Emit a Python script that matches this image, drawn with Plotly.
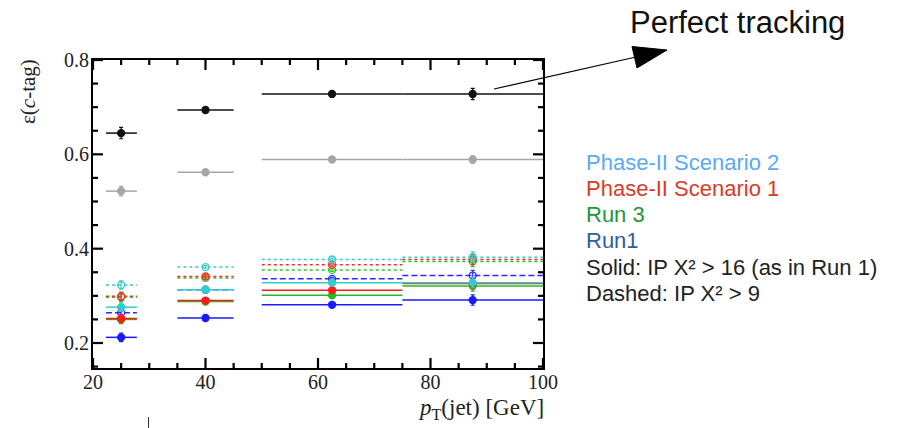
import plotly.graph_objects as go

# ---------------- data ----------------
bin_lo = [22.3, 35.0, 50.0, 75.0]
bin_hi = [27.8, 45.0, 75.0, 100.0]
bin_center = [25.0, 40.0, 62.5, 87.5]

perfect_solid = [0.645, 0.694, 0.728, 0.728]
perfect_solid_err = [0.012, 0.004, 0.004, 0.012]
perfect_gray = [0.522, 0.562, 0.589, 0.589]
perfect_gray_err = [0.010, 0.003, 0.003, 0.008]

scen2_solid = [0.276, 0.313, 0.328, 0.328]
scen2_dashed = [0.323, 0.361, 0.377, 0.382]
scen1_solid = [0.252, 0.290, 0.312, 0.326]
scen1_dashed = [0.299, 0.341, 0.366, 0.377]
run3_solid = [0.250, 0.288, 0.301, 0.321]
run3_dashed = [0.297, 0.338, 0.355, 0.373]
run1_solid = [0.212, 0.253, 0.281, 0.291]
run1_dashed = [0.264, 0.313, 0.336, 0.343]
col_err = [0.009, 0.003, 0.003, 0.011]

x_range = [20, 100]
y_range = [0.147, 0.8]
x_major = [20, 40, 60, 80, 100]
x_minor = [25, 30, 35, 45, 50, 55, 65, 70, 75, 85, 90, 95]
y_major = [0.2, 0.4, 0.6, 0.8]
y_minor = [0.15, 0.25, 0.3, 0.35, 0.45, 0.5, 0.55, 0.65, 0.7, 0.75]

legend_lines = ["Phase-II Scenario 2", "Phase-II Scenario 1", "Run 3", "Run1",
                "Solid: IP X² > 16 (as in Run 1)", "Dashed: IP X² > 9"]
legend_colors = ["#5aaaf2", "#dc3a26", "#23963a", "#2f5f9c", "#222222", "#222222"]

# ---------------- geometry (pixels) ----------------
W, H = 899, 428
L, R, T, B = 93, 543, 60, 368


def px(xp):
    return (xp - L) / (R - L)


def py(yp):
    return (B - yp) / (B - T)


fig = go.Figure()


def add_series(vals, errs, color, dash, open_marker, width=1.5, size=7):
    xs, ys = [], []
    for lo, hi, v in zip(bin_lo, bin_hi, vals):
        xs += [lo, hi, None]
        ys += [v, v, None]
    fig.add_trace(go.Scatter(x=xs, y=ys, mode="lines",
                             line=dict(color=color, width=width, dash=dash),
                             hoverinfo="skip"))
    fig.add_trace(go.Scatter(
        x=bin_center, y=vals, mode="markers",
        marker=dict(symbol="circle-open" if open_marker else "circle",
                    size=size, color=color,
                    line=dict(color=color, width=1.3)),
        error_y=dict(type="data", array=errs, color=color, thickness=1.2, width=2)))


add_series(perfect_gray, perfect_gray_err, "#a6a6a6", "solid", False)
add_series(perfect_solid, perfect_solid_err, "#111111", "solid", False)

add_series(run1_dashed, col_err, "#2a2aff", "6px,3px", True)
add_series(run3_dashed, col_err, "#22cc22", "3px,3px", True)
add_series(scen1_dashed, col_err, "#ff2a2a", "3px,3px", True)
add_series(scen2_dashed, col_err, "#33cccc", "3px,3px", True)

add_series(run1_solid, col_err, "#1a1aff", "solid", False)
add_series(run3_solid, col_err, "#22bb22", "solid", False)
add_series(scen1_solid, col_err, "#ff1a1a", "solid", False)
add_series(scen2_solid, col_err, "#33cccc", "solid", False)

axis_common = dict(showline=True, linecolor="black", linewidth=2, mirror=True,
                   ticks="", showgrid=False, zeroline=False, automargin=False,
                   tickfont=dict(family="Liberation Serif", size=20, color="#222222"))
fig.update_xaxes(range=x_range, tickmode="array", tickvals=x_major,
                 ticktext=[str(v) for v in x_major], ticklabelstandoff=-5, **axis_common)
fig.update_yaxes(range=y_range, tickmode="array", tickvals=y_major,
                 ticktext=[f"{v:.1f}" for v in y_major], ticklabelstandoff=-2, **axis_common)

shapes = []
# inside tick marks on all four sides, placed by the axis scales
tick_line = dict(color="black", width=2.2)
for vals, ln in ((x_major, 10), (x_minor, 5)):
    for v in vals:
        shapes.append(dict(type="line", xref="x", yref="y", x0=v, x1=v,
                           ysizemode="pixel", yanchor=y_range[0], y0=0, y1=ln,
                           line=tick_line))
        shapes.append(dict(type="line", xref="x", yref="y", x0=v, x1=v,
                           ysizemode="pixel", yanchor=y_range[1], y0=0, y1=-ln,
                           line=tick_line))
for vals, ln in ((y_major, 10), (y_minor, 5)):
    for v in vals:
        shapes.append(dict(type="line", xref="x", yref="y", y0=v, y1=v,
                           xsizemode="pixel", xanchor=x_range[0], x0=0, x1=ln,
                           line=tick_line))
        shapes.append(dict(type="line", xref="x", yref="y", y0=v, y1=v,
                           xsizemode="pixel", xanchor=x_range[1], x0=0, x1=-ln,
                           line=tick_line))

annotations = []
# axis titles
annotations.append(dict(text="<i>p</i><sub>T</sub>(jet) [GeV]", xref="paper", yref="paper",
                        x=px(546), y=py(409), xanchor="right", yanchor="middle",
                        showarrow=False,
                        font=dict(family="Liberation Serif", size=23, color="#222222")))
annotations.append(dict(text="ε(<i>c</i>-tag)", xref="paper", yref="paper",
                        x=px(28), y=py(92), xanchor="center", yanchor="middle",
                        textangle=-90, showarrow=False,
                        font=dict(family="Liberation Serif", size=21, color="#222222")))
# Perfect tracking label
annotations.append(dict(text="Perfect tracking", xref="paper", yref="paper",
                        x=px(628), y=py(22), xanchor="left", yanchor="middle",
                        showarrow=False,
                        font=dict(family="Liberation Sans", size=31, color="#111111")))
# legend-like text
for i, (t, c) in enumerate(zip(legend_lines, legend_colors)):
    annotations.append(dict(text=t, xref="paper", yref="paper",
                            x=px(584), y=py(162 + 26.3 * i), xanchor="left", yanchor="middle",
                            showarrow=False,
                            font=dict(family="Liberation Sans", size=22, color=c)))

# arrow line
shapes.append(dict(type="line", xref="paper", yref="paper",
                   x0=px(494), y0=py(89), x1=px(636), y1=py(57),
                   line=dict(color="black", width=1.2)))
# arrow head
tip = (667, 50)
c1 = (637, 68)
c2 = (632, 46.5)
path = "M {} {} L {} {} L {} {} Z".format(px(tip[0]), py(tip[1]), px(c1[0]), py(c1[1]),
                                           px(c2[0]), py(c2[1]))
shapes.append(dict(type="path", xref="paper", yref="paper", path=path,
                   fillcolor="black", line=dict(color="black", width=1)))
# small stray tick at bottom
shapes.append(dict(type="line", xref="paper", yref="paper",
                   x0=px(148.5), y0=py(417), x1=px(148.5), y1=py(428),
                   line=dict(color="#333333", width=1)))

fig.update_layout(width=W, height=H,
                  margin=dict(l=L, r=W - R, t=T, b=H - B, pad=0),
                  plot_bgcolor="white", paper_bgcolor="white",
                  showlegend=False, annotations=annotations, shapes=shapes)

fig.write_html("out.html")
